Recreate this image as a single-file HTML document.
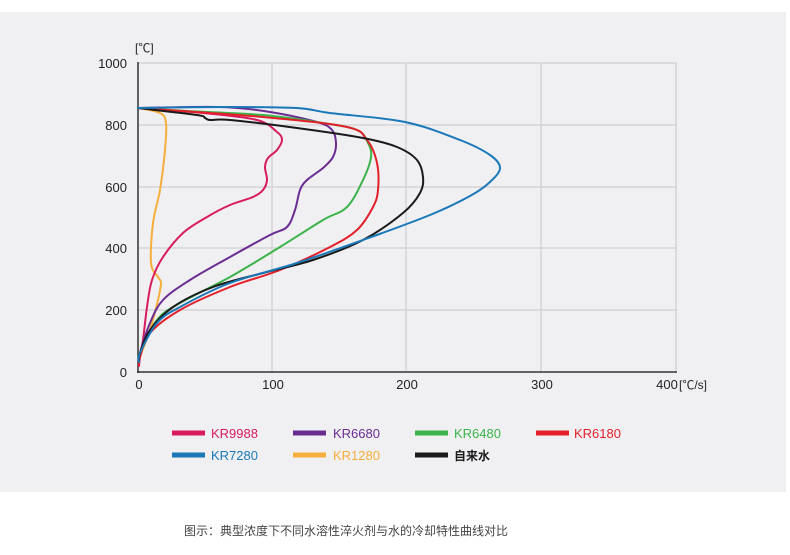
<!DOCTYPE html>
<html><head><meta charset="utf-8"><style>
body{margin:0;background:#fff;width:790px;height:550px;overflow:hidden;font-family:"Liberation Sans","Noto Sans CJK SC",sans-serif;}
</style></head><body>
<svg id="s" width="790" height="550" xmlns="http://www.w3.org/2000/svg" font-family="Liberation Sans, Noto Sans CJK SC, sans-serif">
<rect x="0" y="12" width="786" height="480" fill="#f0f0f3"/>
<g stroke="#d4d4d6" stroke-width="1.5" fill="none">
<line x1="138" y1="63" x2="677" y2="63"/>
<line x1="138" y1="125" x2="677" y2="125"/>
<line x1="138" y1="187" x2="677" y2="187"/>
<line x1="138" y1="248" x2="677" y2="248"/>
<line x1="138" y1="310" x2="677" y2="310"/>
<line x1="272" y1="63" x2="272" y2="372"/>
<line x1="406" y1="63" x2="406" y2="372"/>
<line x1="541" y1="63" x2="541" y2="372"/>
<line x1="676" y1="63" x2="676" y2="372"/>
</g>
<line x1="138" y1="62" x2="138" y2="373" stroke="#333" stroke-width="1.5"/>
<line x1="137" y1="372" x2="677" y2="372" stroke="#333" stroke-width="1.5"/>
<g font-size="13" fill="#222" text-anchor="end">
<text x="127" y="68">1000</text><text x="127" y="130">800</text><text x="127" y="192">600</text>
<text x="127" y="253">400</text><text x="127" y="315">200</text><text x="127" y="377">0</text>
</g>
<text x="135" y="52" font-size="12" fill="#222">[℃]</text>
<g font-size="13" fill="#222" text-anchor="middle">
<text x="139" y="389">0</text><text x="273" y="389">100</text><text x="407" y="389">200</text><text x="542" y="389">300</text><text x="667" y="389">400</text>
</g>
<text x="679" y="389" font-size="12" fill="#222">[℃/s]</text>
<g id="curves" fill="none" stroke-width="2" stroke-linejoin="round" stroke-linecap="round">
<polyline stroke="#f6ae3c" points="138,108 160,113 166,123 165,150 160,190 153,223 151,263 158,277 161,283 158,300 150,330 140,357 139,365"/>
<polyline stroke="#d81b5d" points="138,108 203,113 257,120 277,132 282,140 277,150 268,158 265,167 267,180 263,190 253,197 230,205 207,217 183,233 163,257 152,280 147,307 143,340 140,357 139,366"/>
<polyline stroke="#6a2c91" points="138,108 220,107 270,112 317,122 332,130 336,143 333,157 323,168 307,180 300,190 295,210 287,227 270,235 230,257 190,280 163,300 150,323 140,353 139,362"/>
<polyline stroke="#3cb34a" points="138,108 187,111 263,115 323,123 357,130 368,143 371,157 363,180 347,207 323,220 280,247 230,277 180,303 157,320 140,353 139,362"/>
<polyline stroke="#e3202a" points="138,108 263,117 347,127 367,140 377,163 378,190 373,207 357,230 330,247 280,270 230,287 180,310 150,333 140,357 139,365"/>
<polyline stroke="#1a1a1a" points="138,108 197,115 205,118 210,120 230,120 297,128 363,138 397,147 417,160 423,177 420,193 403,213 363,240 313,260 263,273 213,287 173,307 150,330 140,353 139,362"/>
<polyline stroke="#1a78b8" points="138,108 230,107 297,108 330,113 405,122 460,140 490,155 500,168 490,182 470,196 430,215 363,240 297,263 230,283 180,307 157,323 140,353 139,362"/>
</g>
<g stroke-width="5">
<line x1="172" y1="433" x2="205" y2="433" stroke="#d81b5d"/>
<line x1="293" y1="433" x2="326" y2="433" stroke="#6a2c91"/>
<line x1="415" y1="433" x2="448" y2="433" stroke="#3cb34a"/>
<line x1="536" y1="433" x2="569" y2="433" stroke="#e3202a"/>
<line x1="172" y1="455" x2="205" y2="455" stroke="#1a78b8"/>
<line x1="293" y1="455" x2="326" y2="455" stroke="#f6ae3c"/>
<line x1="415" y1="455" x2="448" y2="455" stroke="#1a1a1a"/>
</g>
<g font-size="13">
<text x="211" y="438" fill="#d81b5d">KR9988</text>
<text x="333" y="438" fill="#6a2c91">KR6680</text>
<text x="454" y="438" fill="#3cb34a">KR6480</text>
<text x="574" y="438" fill="#e3202a">KR6180</text>
<text x="211" y="460" fill="#1a78b8">KR7280</text>
<text x="333" y="460" fill="#f6ae3c">KR1280</text>
<text x="454" y="460" fill="#1a1a1a" font-size="12" font-weight="bold">自来水</text>
</g>
<text x="184" y="535" font-size="12" fill="#444">图示：典型浓度下不同水溶性淬火剂与水的冷却特性曲线对比</text>
</svg>
<script>
(function(){
var ns="http://www.w3.org/2000/svg";
var pls=document.querySelectorAll('#curves polyline');
for(var i=0;i<pls.length;i++){
 var pl=pls[i];
 var p=pl.getAttribute('points').trim().split(/\s+/).map(function(s){return s.split(',').map(Number);});
 var d='M'+p[0][0]+','+p[0][1];
 for(var k=0;k<p.length-1;k++){
  var p0=p[k>0?k-1:0],p1=p[k],p2=p[k+1],p3=p[k+2<p.length?k+2:k+1];
  var c1x=p1[0]+(p2[0]-p0[0])/6,c1y=p1[1]+(p2[1]-p0[1])/6;
  var c2x=p2[0]-(p3[0]-p1[0])/6,c2y=p2[1]-(p3[1]-p1[1])/6;
  d+=' C'+c1x.toFixed(1)+','+c1y.toFixed(1)+' '+c2x.toFixed(1)+','+c2y.toFixed(1)+' '+p2[0]+','+p2[1];
 }
 var path=document.createElementNS(ns,'path');
 path.setAttribute('d',d);
 path.setAttribute('stroke',pl.getAttribute('stroke'));
 pl.parentNode.replaceChild(path,pl);
}
})();
</script>
</body></html>
